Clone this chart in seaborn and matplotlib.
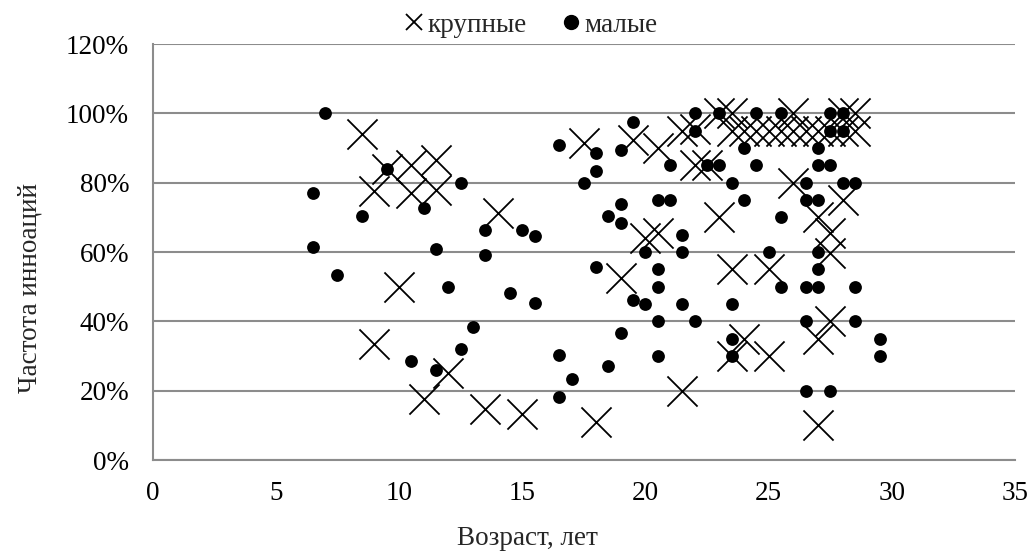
import matplotlib
matplotlib.use("Agg")
import matplotlib.pyplot as plt
import seaborn as sns
import pandas as pd
from matplotlib.lines import Line2D
from matplotlib.ticker import FuncFormatter, MultipleLocator

# ---- data (age in years, innovation frequency in %) ----
large_x = [8.5, 9.5, 9.0, 10.5, 10.5, 11.5, 11.5, 10.0, 9.0, 11.0, 12.0, 13.5, 15.0, 14.0,
           17.5, 18.0, 19.0, 19.5, 20.5, 20.0, 20.5, 21.5, 21.5, 22.0, 22.0, 22.5, 23.0,
           23.5, 23.0, 23.5, 23.5, 24.0, 25.0, 25.0, 26.0, 26.0, 28.0, 28.5,
           23.5, 24.0, 24.5, 25.0, 25.5, 26.0, 26.5, 27.0, 27.5, 28.0, 28.5,
           27.0, 27.5, 27.5, 28.0, 27.5, 27.0, 27.0]
large_y = [94, 84, 77.5, 85, 77, 86.5, 78, 50, 33.5, 17.5, 25, 14.7, 13.2, 71.3,
           91.4, 11, 52.6, 92.3, 90, 64, 65.5, 20, 95, 95.5, 85, 85, 100,
           100, 70, 55, 30, 35, 55, 30, 80, 100, 100, 100,
           95, 95, 95, 95, 95, 95, 95, 95, 95, 95, 95,
           70, 65.4, 59.6, 75, 40, 35, 10]

small_x = [7.0, 6.5, 6.5, 7.5, 8.5, 9.5, 11.0, 12.5, 11.5, 10.5, 11.5, 12.0, 13.0, 12.5,
           13.5, 13.5, 14.5, 15.0, 15.5, 15.5, 16.5, 16.5, 17.0, 16.5, 17.5, 18.0, 18.0,
           18.0, 18.5, 18.5, 19.0, 19.0, 19.0, 19.0, 19.5, 19.5, 20.0, 20.0, 20.5, 21.0,
           20.5, 20.5, 20.5, 20.5, 21.0, 21.5, 21.5, 21.5, 22.0, 22.0, 22.0, 22.5, 23.0,
           23.0, 23.5, 23.5, 23.5, 23.5, 24.0, 24.0, 24.5, 24.5, 25.0, 25.5, 25.5, 25.5,
           26.5, 26.5, 26.5, 26.5, 26.5, 27.0, 27.0, 27.0, 27.0, 27.0, 27.0, 27.5, 27.5,
           27.5, 27.5, 28.0, 28.0, 28.0, 28.5, 28.5, 28.5, 29.5, 29.5]
small_y = [100, 77, 61.5, 53.5, 70.5, 84, 72.8, 80, 61, 28.5, 26, 50, 38.3, 32,
           66.5, 59.2, 48.3, 66.5, 64.5, 45.2, 91, 30.3, 23.4, 18.1, 80, 88.7, 83.4,
           55.6, 70.4, 27, 89.4, 73.8, 68.4, 36.7, 97.6, 46.1, 60, 45, 75, 75,
           55, 50, 40, 30, 85, 65, 60, 45, 100, 95, 40, 85, 100,
           85, 80, 45, 35, 30, 90, 75, 100, 85, 60, 100, 70, 50,
           80, 75, 50, 40, 20, 90, 85, 75, 60, 55, 50, 100, 95,
           85, 20, 100, 95, 80, 80, 50, 40, 35, 30]

label_large = "крупные"
label_small = "малые"

df_large = pd.DataFrame({"x": large_x, "y": large_y})
df_small = pd.DataFrame({"x": small_x, "y": small_y})

sns.set_style("white")
plt.rcParams["font.family"] = ["Liberation Serif", "DejaVu Serif"]

fig = plt.figure(figsize=(10.29, 5.57), dpi=100)
ax = fig.add_axes([0.1484, 0.174, 0.8380, 0.747])

grid_c = "#8c8c8c"
ax.set_axisbelow(True)
ax.yaxis.grid(True, color=grid_c, linewidth=1.5)
ax.xaxis.grid(False)

sns.scatterplot(data=df_small, x="x", y="y", ax=ax, marker="o", s=85,
                color="black", edgecolor="black", linewidth=0, zorder=3)
sns.scatterplot(data=df_large, x="x", y="y", ax=ax, marker="x", s=470,
                color="black", linewidth=1.3, zorder=4)

ax.set_xlim(0, 35)
ax.set_ylim(0, 120)
ax.xaxis.set_major_locator(MultipleLocator(5))
ax.yaxis.set_major_locator(MultipleLocator(20))
ax.yaxis.set_major_formatter(FuncFormatter(lambda v, p: f"{v:.0f}%"))

for side in ["top", "right"]:
    ax.spines[side].set_visible(False)
for side in ["left", "bottom"]:
    ax.spines[side].set_color(grid_c)
    ax.spines[side].set_linewidth(1.5)

fs = 19.5
ax.tick_params(axis="both", which="major", direction="out", length=8, width=1.5,
               color=grid_c, labelsize=fs, labelcolor="black")
ax.tick_params(axis="x", pad=7)
ax.tick_params(axis="y", pad=9)

ax.set_xlabel("Возраст, лет", fontsize=fs)
ax.set_ylabel("Частота инноаций", fontsize=fs)
ax.xaxis.set_label_coords(0.434, -0.1875)
ax.xaxis.label.set_va("center")
ax.yaxis.set_label_coords(-0.142, 0.413)
ax.yaxis.label.set_va("center")

handles = [
    Line2D([], [], linestyle="none", marker="x", markersize=12, markeredgewidth=1.3,
           color="black", label=label_large),
    Line2D([], [], linestyle="none", marker="o", markersize=10, color="black",
           label=label_small),
]
fig.legend(handles=handles, loc="center", bbox_to_anchor=(0.516, 0.955), ncol=2,
           frameon=False, fontsize=fs, handlelength=0.7, handletextpad=0.15,
           columnspacing=1.3)

fig.savefig("out.png", dpi=100)
